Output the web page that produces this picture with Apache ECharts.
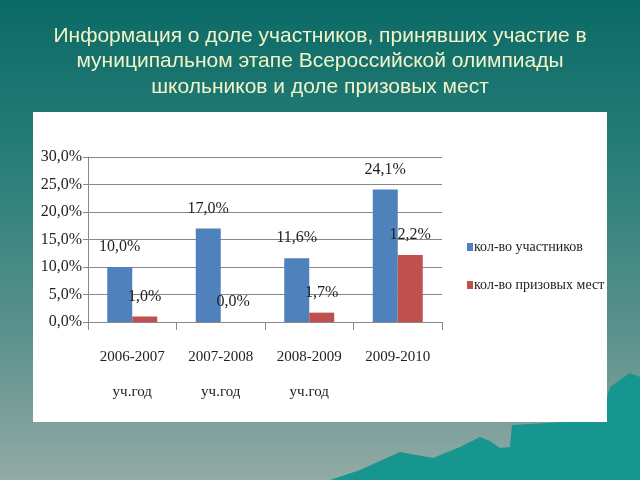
<!DOCTYPE html>
<html>
<head>
<meta charset="utf-8">
<script src="https://cdn.jsdelivr.net/npm/echarts@6/dist/echarts.min.js"></script>
<style>html,body{margin:0;padding:0;}#c{width:640px;height:480px;}</style>
</head>
<body>
<div id="c"></div>
<script>
var titleLines = ['Информация о доле участников, принявших участие в', 'муниципальном этапе Всероссийской олимпиады', 'школьников и доле призовых мест'];
var categories = ['2006-2007\nуч.год', '2007-2008\nуч.год', '2008-2009\nуч.год', '2009-2010'];
var seriesNames = ['кол-во участников', 'кол-во призовых мест'];
var participants = [10.0, 17.0, 11.6, 24.1];
var prizes = [1.0, 0.0, 1.7, 12.2];
var yMin = 0, yMax = 30, yStep = 5;

function pct(v) { return v.toFixed(1).replace('.', ',') + '%'; }

var serif = '"Liberation Serif", "Times New Roman", serif';
var chart = echarts.init(document.getElementById('c'));
chart.setOption({
  backgroundColor: {
    type: 'linear', x: 0, y: 0, x2: 0, y2: 1,
    colorStops: [
      {offset: 0, color: '#0b6a66'},
      {offset: 0.35, color: '#2a7f79'},
      {offset: 0.7, color: '#5c928d'},
      {offset: 1, color: '#93aaa6'}
    ]
  },
  graphic: [
    {type: 'polygon', z: -20, silent: true, shape: {points: [[330,480],[360,470],[400,452],[433,458],[460,447],[480,437],[490,441],[500,448],[510,447],[512,425],[600,420],[610,387],[630,373],[640,377],[640,480]]}, style: {fill: '#16968f'}},
    {type: 'rect', z: -10, silent: true, shape: {x: 33, y: 112, width: 574, height: 310}, style: {fill: '#ffffff'}}
  ],
  title: {
    text: titleLines.join('\n'),
    left: 'center', top: 18,
    textStyle: {color: '#f3f3c9', fontSize: 21, fontWeight: 'normal', fontFamily: '"Liberation Sans", Arial, sans-serif', lineHeight: 25.5}
  },
  legend: {
    orient: 'vertical', left: 462, top: 235, itemWidth: 6, itemHeight: 8, itemGap: 24,
    icon: 'rect',
    textStyle: {fontFamily: serif, fontSize: 14, color: '#222', padding: [0,0,0,-4]},
    data: seriesNames
  },
  grid: {left: 88, right: 198, top: 157, bottom: 158, containLabel: false},
  xAxis: {
    type: 'category', data: categories,
    axisLine: {lineStyle: {color: '#888', width: 1}},
    axisTick: {show: true, length: 8, lineStyle: {color: '#888'}},
    axisLabel: {fontFamily: serif, fontSize: 15, color: '#222', lineHeight: 35, margin: 18}
  },
  yAxis: {
    type: 'value', min: yMin, max: yMax, interval: yStep,
    axisLine: {show: true, lineStyle: {color: '#888'}},
    axisTick: {show: true, length: 5, lineStyle: {color: '#888'}},
    splitLine: {lineStyle: {color: '#888', width: 1}},
    axisLabel: {formatter: function (v) { return pct(v); }, fontFamily: serif, fontSize: 16, color: '#222', margin: 6}
  },
  series: [
    {name: seriesNames[0], type: 'bar', data: participants, barWidth: 25, barGap: '0%',
     itemStyle: {color: '#4f81bd'},
     label: {show: true, position: 'top', distance: 12, formatter: function (p) { return pct(p.value); }, fontFamily: serif, fontSize: 16, color: '#222'}},
    {name: seriesNames[1], type: 'bar', data: prizes, barWidth: 25,
     itemStyle: {color: '#c0504d'},
     label: {show: true, position: 'top', distance: 12, formatter: function (p) { return pct(p.value); }, fontFamily: serif, fontSize: 16, color: '#222'}}
  ]
});
</script>
</body>
</html>
